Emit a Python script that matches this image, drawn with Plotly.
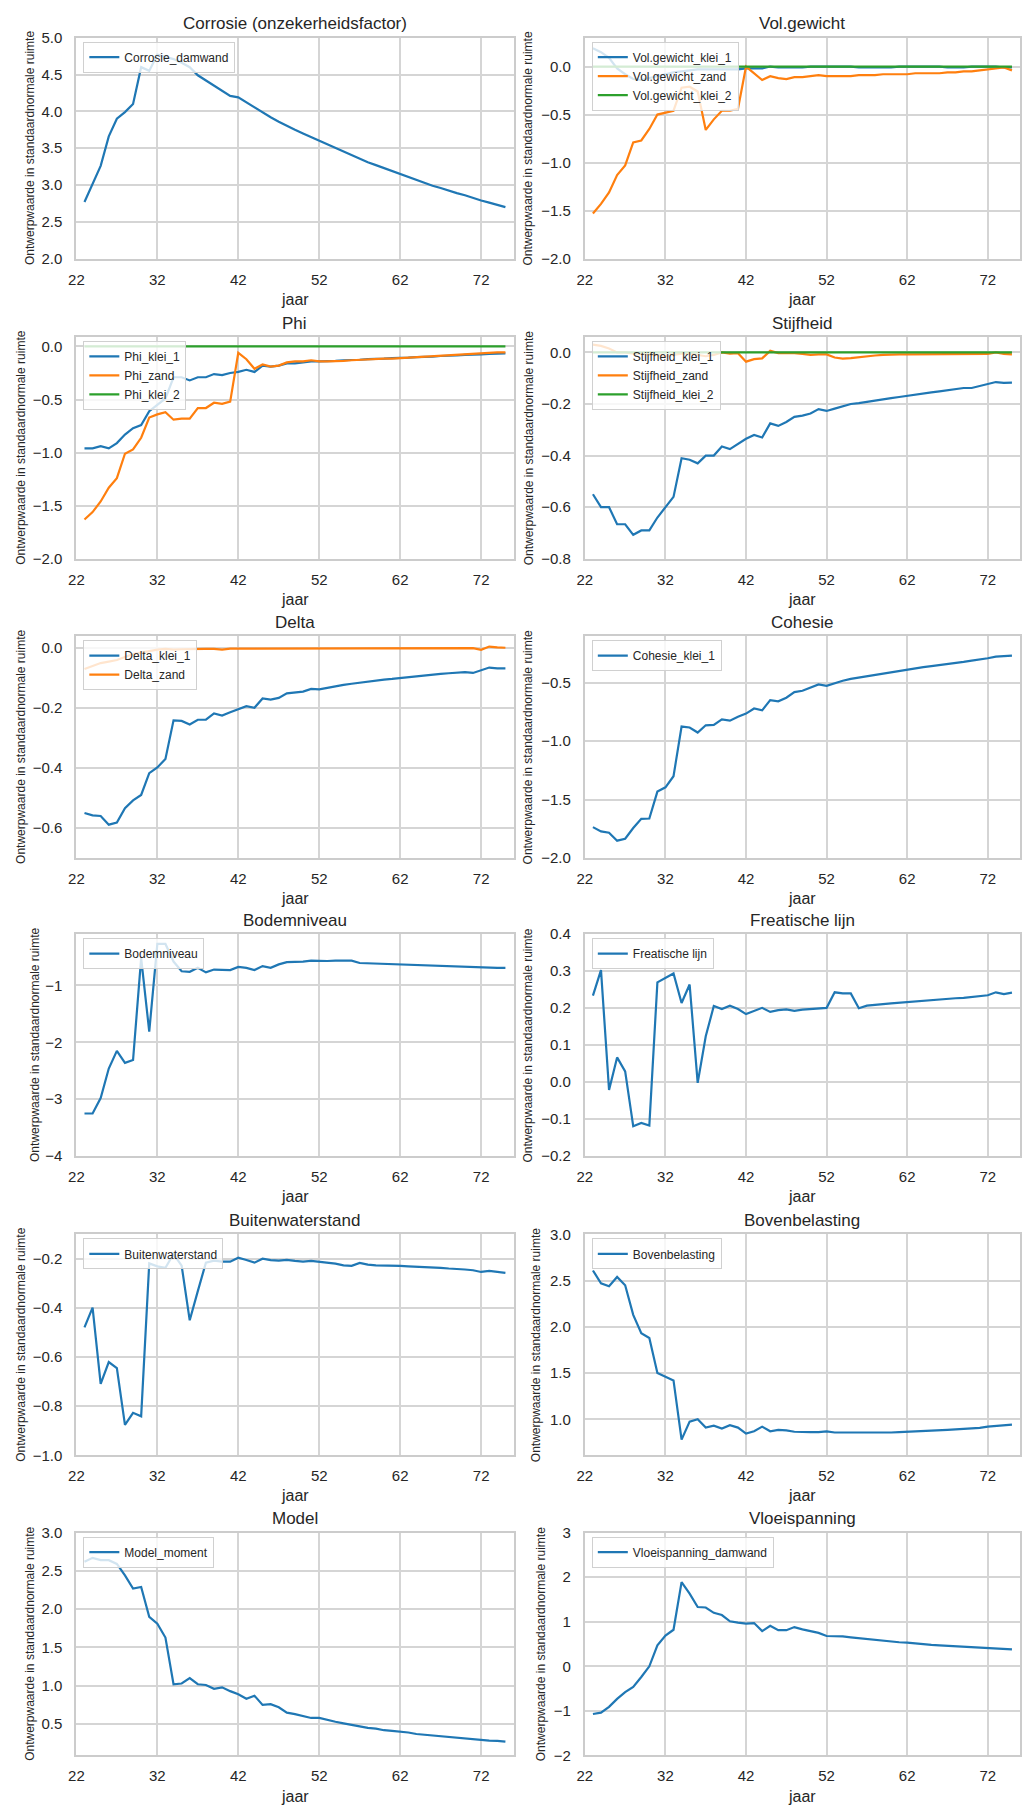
import plotly.graph_objects as go
from plotly.subplots import make_subplots

# ---------------------------------------------------------------- data
jaar = [23, 24, 25, 26, 27, 28, 29, 30, 31, 32,
        33, 34, 35, 36, 37, 38, 39, 40, 41, 42,
        43, 44, 45, 46, 47, 48, 49, 50, 51, 52,
        53, 54, 55, 56, 57, 58, 59, 60, 61, 62,
        63, 64, 65, 66, 67, 68, 69, 70, 71, 72,
        73, 74, 75]

nul_reeks = [0.0, 0.0, 0.0, 0.0, 0.0, 0.0, 0.0, 0.0, 0.0, 0.0,
             0.0, 0.0, 0.0, 0.0, 0.0, 0.0, 0.0, 0.0, 0.0, 0.0,
             0.0, 0.0, 0.0, 0.0, 0.0, 0.0, 0.0, 0.0, 0.0, 0.0,
             0.0, 0.0, 0.0, 0.0, 0.0, 0.0, 0.0, 0.0, 0.0, 0.0,
             0.0, 0.0, 0.0, 0.0, 0.0, 0.0, 0.0, 0.0, 0.0, 0.0,
             0.0, 0.0, 0.0]

corrosie_damwand = [2.77, 3.02, 3.26, 3.66, 3.90, 3.99, 4.10, 4.60, 4.55, 4.77,
                    4.74, 4.71, 4.66, 4.60, 4.49, 4.42, 4.36, 4.28, 4.21, 4.19,
                    4.12, 4.05, 3.99, 3.92, 3.86, 3.80, 3.75, 3.70, 3.65, 3.60,
                    3.55, 3.50, 3.45, 3.40, 3.36, 3.31, 3.27, 3.23, 3.18, 3.14,
                    3.10, 3.06, 3.03, 2.99, 2.96, 2.92, 2.89, 2.86, 2.82, 2.79,
                    2.76, 2.73, 2.70]

volgewicht_klei_1 = [0.19, 0.15, 0.09, -0.02, -0.08, -0.13, -0.14, -0.12, -0.10, -0.08,
                     -0.06, -0.05, -0.04, -0.03, -0.03, -0.03, -0.03, -0.03, -0.03, -0.02,
                     -0.02, -0.02, 0.00, -0.01, -0.01, -0.01, -0.01, 0.00, 0.00, 0.00,
                     0.00, 0.00, 0.00, -0.01, -0.01, -0.01, -0.01, -0.01, 0.00, 0.00,
                     0.00, 0.00, 0.00, 0.00, -0.01, -0.01, -0.01, 0.00, 0.00, 0.00,
                     0.00, -0.01, -0.01]
volgewicht_zand = [-1.53, -1.43, -1.31, -1.13, -1.03, -0.79, -0.77, -0.65, -0.50, -0.48,
                   -0.46, -0.22, -0.21, -0.26, -0.66, -0.55, -0.46, -0.46, -0.44, 0.00,
                   -0.07, -0.14, -0.10, -0.12, -0.13, -0.11, -0.11, -0.10, -0.09, -0.10,
                   -0.10, -0.10, -0.10, -0.09, -0.09, -0.09, -0.08, -0.08, -0.08, -0.08,
                   -0.07, -0.07, -0.07, -0.07, -0.06, -0.06, -0.05, -0.05, -0.04, -0.03,
                   -0.02, -0.01, -0.04]
volgewicht_klei_2 = nul_reeks

phi_klei_1 = [-0.96, -0.96, -0.94, -0.96, -0.91, -0.83, -0.77, -0.74, -0.61, -0.55,
              -0.49, -0.29, -0.29, -0.32, -0.29, -0.29, -0.26, -0.27, -0.25, -0.24,
              -0.22, -0.24, -0.18, -0.19, -0.18, -0.16, -0.16, -0.15, -0.14, -0.14,
              -0.14, -0.135, -0.13, -0.13, -0.125, -0.12, -0.12, -0.115, -0.11, -0.11,
              -0.105, -0.10, -0.10, -0.095, -0.09, -0.09, -0.085, -0.08, -0.08, -0.075,
              -0.07, -0.065, -0.065]
phi_zand = [-1.63, -1.56, -1.46, -1.33, -1.24, -1.01, -0.97, -0.86, -0.67, -0.64,
            -0.62, -0.69, -0.68, -0.68, -0.58, -0.58, -0.53, -0.54, -0.52, -0.06,
            -0.12, -0.21, -0.17, -0.19, -0.18, -0.15, -0.14, -0.14, -0.13, -0.14,
            -0.14, -0.14, -0.135, -0.13, -0.125, -0.12, -0.12, -0.115, -0.115, -0.11,
            -0.105, -0.10, -0.10, -0.095, -0.09, -0.085, -0.08, -0.075, -0.07, -0.065,
            -0.06, -0.055, -0.055]
phi_klei_2 = nul_reeks

stijfheid_klei_1 = [-0.55, -0.60, -0.60, -0.666, -0.666, -0.707, -0.69, -0.69, -0.64, -0.60,
                    -0.56, -0.41, -0.416, -0.43, -0.40, -0.40, -0.365, -0.375, -0.355, -0.335,
                    -0.32, -0.33, -0.275, -0.285, -0.27, -0.25, -0.245, -0.237, -0.22, -0.227,
                    -0.218, -0.21, -0.20, -0.197, -0.192, -0.187, -0.18, -0.177, -0.173, -0.168,
                    -0.163, -0.159, -0.155, -0.151, -0.147, -0.142, -0.138, -0.138, -0.131, -0.125,
                    -0.115, -0.118, -0.117]
stijfheid_zand = [0.03, 0.025, 0.015, 0.0, 0.0, -0.005, -0.005, -0.01, -0.01, -0.015,
                  -0.01, -0.005, -0.005, -0.01, -0.015, -0.01, 0.0, -0.005, -0.003, -0.036,
                  -0.026, -0.023, 0.006, -0.003, -0.003, -0.003, -0.006, -0.01, -0.008, -0.008,
                  -0.02, -0.024, -0.022, -0.018, -0.014, -0.012, -0.01, -0.008, -0.008, -0.008,
                  -0.008, -0.008, -0.008, -0.007, -0.007, -0.007, -0.007, -0.006, -0.006, -0.006,
                  0.0, -0.006, -0.008]
stijfheid_klei_2 = nul_reeks

delta_klei_1 = [-0.55, -0.558, -0.56, -0.589, -0.582, -0.534, -0.508, -0.49, -0.417, -0.398,
                -0.37, -0.241, -0.243, -0.255, -0.239, -0.239, -0.218, -0.225, -0.214, -0.204,
                -0.194, -0.199, -0.168, -0.172, -0.166, -0.151, -0.149, -0.145, -0.136, -0.138,
                -0.133, -0.127, -0.123, -0.119, -0.115, -0.112, -0.108, -0.105, -0.103, -0.10,
                -0.096, -0.093, -0.091, -0.088, -0.086, -0.084, -0.082, -0.08, -0.083, -0.075,
                -0.065, -0.068, -0.068]
delta_zand = [-0.07, -0.06, -0.05, -0.045, -0.04, -0.03, -0.02, -0.015, -0.01, -0.005,
              -0.003, -0.005, -0.004, -0.003, -0.004, -0.003, -0.003, -0.005, -0.002, -0.002,
              -0.002, -0.002, -0.001, -0.001, -0.001, -0.001, -0.001, -0.001, -0.001, 0.0,
              0.0, 0.0, 0.0, 0.0, 0.0, 0.0, 0.0, 0.0, 0.0, 0.0,
              0.0, 0.0, 0.0, 0.0, 0.0, 0.0, 0.0, 0.0, 0.0, -0.006,
              0.005, 0.002, 0.001]

cohesie_klei_1 = [-1.736, -1.773, -1.784, -1.852, -1.835, -1.744, -1.665, -1.662, -1.432, -1.395,
                  -1.30, -0.875, -0.883, -0.926, -0.864, -0.861, -0.813, -0.824, -0.79, -0.764,
                  -0.72, -0.736, -0.648, -0.659, -0.628, -0.58, -0.568, -0.543, -0.514, -0.526,
                  -0.503, -0.483, -0.466, -0.455, -0.443, -0.432, -0.418, -0.406, -0.398, -0.386,
                  -0.378, -0.366, -0.358, -0.349, -0.341, -0.335, -0.321, -0.31, -0.301, -0.29,
                  -0.276, -0.273, -0.267]

bodemniveau = [-3.25, -3.25, -2.98, -2.46, -2.15, -2.36, -2.31, -0.52, -1.81, -0.27,
               -0.27, -0.58, -0.75, -0.76, -0.69, -0.77, -0.72, -0.73, -0.73, -0.675,
               -0.69, -0.73, -0.66, -0.69, -0.63, -0.59, -0.59, -0.58, -0.565, -0.57,
               -0.57, -0.565, -0.565, -0.565, -0.605, -0.61, -0.617, -0.62, -0.63, -0.635,
               -0.64, -0.645, -0.65, -0.655, -0.66, -0.67, -0.675, -0.675, -0.68, -0.68,
               -0.69, -0.69, -0.69]

freatische_lijn = [0.234, 0.303, -0.021, 0.067, 0.029, -0.119, -0.11, -0.117, 0.27, 0.282,
                   0.294, 0.214, 0.264, -0.002, 0.124, 0.206, 0.198, 0.207, 0.198, 0.184,
                   0.193, 0.201, 0.19, 0.195, 0.197, 0.193, 0.196, 0.198, 0.199, 0.201,
                   0.243, 0.24, 0.24, 0.2, 0.207, 0.21, 0.211, 0.213, 0.215, 0.217,
                   0.218, 0.22, 0.221, 0.223, 0.225, 0.227, 0.228, 0.23, 0.232, 0.235,
                   0.243, 0.238, 0.242]

buitenwaterstand = [-0.479, -0.398, -0.709, -0.62, -0.645, -0.876, -0.827, -0.841, -0.218, -0.23,
                    -0.236, -0.18, -0.227, -0.45, -0.331, -0.215, -0.207, -0.211, -0.211, -0.195,
                    -0.204, -0.215, -0.199, -0.205, -0.207, -0.204, -0.208, -0.211, -0.208, -0.212,
                    -0.213, -0.219, -0.226, -0.228, -0.216, -0.223, -0.226, -0.226, -0.227, -0.228,
                    -0.23, -0.231, -0.234, -0.235, -0.236, -0.239, -0.24, -0.243, -0.246, -0.253,
                    -0.249, -0.253, -0.257]

bovenbelasting = [2.61, 2.47, 2.44, 2.54, 2.45, 2.13, 1.93, 1.88, 1.50, 1.46,
                  1.42, 0.78, 0.975, 1.0, 0.91, 0.93, 0.90, 0.935, 0.91, 0.845,
                  0.87, 0.92, 0.87, 0.885, 0.88, 0.865, 0.86, 0.86, 0.86, 0.87,
                  0.857, 0.857, 0.857, 0.853, 0.85, 0.85, 0.853, 0.857, 0.86, 0.863,
                  0.867, 0.87, 0.874, 0.877, 0.885, 0.89, 0.895, 0.90, 0.907, 0.92,
                  0.928, 0.935, 0.943]

model_moment = [2.62, 2.67, 2.64, 2.64, 2.59, 2.44, 2.27, 2.29, 1.90, 1.81,
                1.63, 1.02, 1.03, 1.10, 1.02, 1.01, 0.96, 0.98, 0.93, 0.89,
                0.83, 0.87, 0.75, 0.76, 0.72, 0.65, 0.63, 0.60, 0.58, 0.58,
                0.55, 0.53, 0.51, 0.49, 0.47, 0.45, 0.44, 0.42, 0.41, 0.40,
                0.39, 0.37, 0.36, 0.35, 0.34, 0.33, 0.32, 0.31, 0.30, 0.29,
                0.285, 0.28, 0.27]

vloeispanning_damwand = [-1.07, -1.04, -0.91, -0.73, -0.58, -0.46, -0.24, 0.0, 0.47, 0.69,
                         0.82, 1.89, 1.63, 1.33, 1.32, 1.20, 1.15, 1.01, 0.98, 0.96,
                         0.97, 0.79, 0.91, 0.81, 0.81, 0.88, 0.83, 0.79, 0.75, 0.68,
                         0.68, 0.67, 0.65, 0.63, 0.61, 0.60, 0.58, 0.56, 0.54, 0.53,
                         0.51, 0.50, 0.48, 0.47, 0.46, 0.45, 0.44, 0.43, 0.42, 0.41,
                         0.40, 0.39, 0.38]

x_ticks = [22, 32, 42, 52, 62, 72]

# ---------------------------------------------------------------- panels
panels = [
    dict(title="Corrosie (onzekerheidsfactor)", series=[("Corrosie_damwand", corrosie_damwand)],
         yrange=[2.0, 5.0], yticks=[2.0, 2.5, 3.0, 3.5, 4.0, 4.5, 5.0], fmt=".1f", ylab_x=22),
    dict(title="Vol.gewicht", series=[("Vol.gewicht_klei_1", volgewicht_klei_1),
                                      ("Vol.gewicht_zand", volgewicht_zand),
                                      ("Vol.gewicht_klei_2", volgewicht_klei_2)],
         yrange=[-2.0, 0.30], yticks=[-2.0, -1.5, -1.0, -0.5, 0.0], fmt=".1f", ylab_x=525),
    dict(title="Phi", series=[("Phi_klei_1", phi_klei_1), ("Phi_zand", phi_zand),
                              ("Phi_klei_2", phi_klei_2)],
         yrange=[-2.0, 0.09], yticks=[-2.0, -1.5, -1.0, -0.5, 0.0], fmt=".1f", ylab_x=13),
    dict(title="Stijfheid", series=[("Stijfheid_klei_1", stijfheid_klei_1),
                                    ("Stijfheid_zand", stijfheid_zand),
                                    ("Stijfheid_klei_2", stijfheid_klei_2)],
         yrange=[-0.8, 0.06], yticks=[-0.8, -0.6, -0.4, -0.2, 0.0], fmt=".1f", ylab_x=525),
    dict(title="Delta", series=[("Delta_klei_1", delta_klei_1), ("Delta_zand", delta_zand)],
         yrange=[-0.70, 0.04], yticks=[-0.6, -0.4, -0.2, 0.0], fmt=".1f", ylab_x=13),
    dict(title="Cohesie", series=[("Cohesie_klei_1", cohesie_klei_1)],
         yrange=[-2.0, -0.1], yticks=[-2.0, -1.5, -1.0, -0.5], fmt=".1f", ylab_x=525),
    dict(title="Bodemniveau", series=[("Bodemniveau", bodemniveau)],
         yrange=[-4.0, -0.1], yticks=[-4, -3, -2, -1], fmt="d", ylab_x=27),
    dict(title="Freatische lijn", series=[("Freatische lijn", freatische_lijn)],
         yrange=[-0.2, 0.4], yticks=[-0.2, -0.1, 0.0, 0.1, 0.2, 0.3, 0.4], fmt=".1f", ylab_x=525),
    dict(title="Buitenwaterstand", series=[("Buitenwaterstand", buitenwaterstand)],
         yrange=[-1.0, -0.1], yticks=[-1.0, -0.8, -0.6, -0.4, -0.2], fmt=".1f", ylab_x=13),
    dict(title="Bovenbelasting", series=[("Bovenbelasting", bovenbelasting)],
         yrange=[0.61, 3.0], yticks=[1.0, 1.5, 2.0, 2.5, 3.0], fmt=".1f", ylab_x=533),
    dict(title="Model", series=[("Model_moment", model_moment)],
         yrange=[0.09, 3.0], yticks=[0.5, 1.0, 1.5, 2.0, 2.5, 3.0], fmt=".1f", ylab_x=22),
    dict(title="Vloeispanning", series=[("Vloeispanning_damwand", vloeispanning_damwand)],
         yrange=[-2.0, 3.0], yticks=[-2, -1, 0, 1, 2, 3], fmt="d", ylab_x=538),
]

colors = ["#1f77b4", "#ff7f0e", "#2ca02c"]

# ---------------------------------------------------------------- layout geometry (px)
W, H = 1022, 1814
col_px = [(69, 510), (582, 1021)]
row_px = [(29, 252), (331, 555), (633, 857), (934, 1158), (1237, 1460), (1538, 1763)]

FONT = "Liberation Sans, Arial, Helvetica, sans-serif"
TXT = "#262626"
GRID = "#d5d5d5"
FRAME = "#cccccc"


def px_x(v):
    return v / W


def px_y(v):
    return 1 - v / H


fig = make_subplots(rows=6, cols=2)
annotations = []
legends = {}

for i, p in enumerate(panels):
    r, c = divmod(i, 2)
    k = i + 1
    x0, x1 = col_px[c]
    y0, y1 = row_px[r]
    leg_name = "legend" if k == 1 else f"legend{k}"

    for j, (name, vals) in enumerate(p["series"]):
        fig.add_trace(
            go.Scatter(x=jaar, y=vals, mode="lines", name=name,
                       line=dict(color=colors[j], width=2.2),
                       legend=leg_name, showlegend=True),
            row=r + 1, col=c + 1,
        )

    xa = "xaxis" if k == 1 else f"xaxis{k}"
    ya = "yaxis" if k == 1 else f"yaxis{k}"
    fig.layout[xa].update(
        domain=[px_x(x0), px_x(x1)], range=[22, 76], tickvals=x_ticks,
        showgrid=True, gridcolor=GRID, gridwidth=1.5, zeroline=False,
        showline=True, linecolor=FRAME, linewidth=2, mirror=True, ticks="",
        ticklabelstandoff=6,
        tickfont=dict(family=FONT, size=15, color=TXT),
    )
    fig.layout[ya].update(
        domain=[px_y(y1), px_y(y0)], range=p["yrange"], tickvals=p["yticks"],
        tickformat=p["fmt"],
        showgrid=True, gridcolor=GRID, gridwidth=1.5, zeroline=False,
        showline=True, linecolor=FRAME, linewidth=2, mirror=True, ticks="",
        ticklabelstandoff=9,
        tickfont=dict(family=FONT, size=15, color=TXT),
    )

    cx = (x0 + x1) / 2
    annotations.append(dict(text=p["title"], x=px_x(cx), y=px_y(y0 - 14), xref="paper", yref="paper",
                            xanchor="center", yanchor="middle", showarrow=False,
                            font=dict(family=FONT, size=17, color=TXT)))
    annotations.append(dict(text="jaar", x=px_x(cx), y=px_y(y1 + 41), xref="paper", yref="paper",
                            xanchor="center", yanchor="middle", showarrow=False,
                            font=dict(family=FONT, size=16, color=TXT)))
    annotations.append(dict(text="Ontwerpwaarde in standaardnormale ruimte",
                            x=px_x(p["ylab_x"]), y=px_y((y0 + y1) / 2), xref="paper", yref="paper",
                            xanchor="center", yanchor="middle", textangle=-90, showarrow=False,
                            font=dict(family=FONT, size=12, color=TXT)))

    legends[leg_name] = dict(
        x=px_x(x0 + 7), y=px_y(y0 + 4), xanchor="left", yanchor="top",
        bgcolor="rgba(255,255,255,0.8)", bordercolor="#d0d0d0", borderwidth=1,
        font=dict(family=FONT, size=12, color=TXT), itemwidth=30, tracegroupgap=0,
    )

fig.update_layout(
    width=W, height=H,
    margin=dict(l=0, r=0, t=0, b=0),
    paper_bgcolor="white", plot_bgcolor="white",
    annotations=annotations,
    font=dict(family=FONT, color=TXT),
    **legends,
)

fig.write_html("out.html")
